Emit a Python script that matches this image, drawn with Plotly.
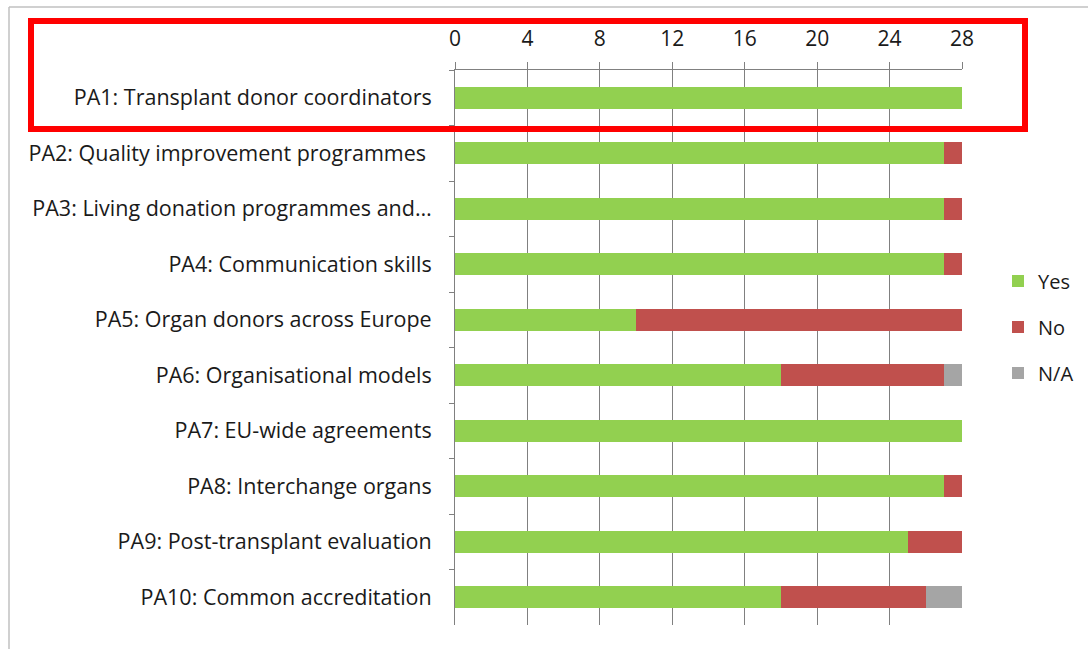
import plotly.graph_objects as go

categories = [
    "PA1: Transplant donor coordinators",
    "PA2: Quality improvement programmes\u00a0",
    "PA3: Living donation programmes and…",
    "PA4: Communication skills",
    "PA5: Organ donors across Europe",
    "PA6: Organisational models",
    "PA7: EU-wide agreements",
    "PA8: Interchange organs",
    "PA9: Post-transplant evaluation",
    "PA10: Common accreditation",
]
yes_vals = [28, 27, 27, 27, 10, 18, 28, 27, 25, 18]
no_vals = [0, 1, 1, 1, 18, 9, 0, 1, 3, 8]
na_vals = [0, 0, 0, 0, 0, 1, 0, 0, 0, 2]
x_ticks = [0, 4, 8, 12, 16, 20, 24, 28]

FONT = "Open Sans"
W, H = 1088, 649
L, R, T, B = 455, 126, 70, 24
pw, ph = W - L - R, H - T - B

def px_x(x):
    return (x - L) / pw

def px_y(y):
    return (H - B - y) / ph

fig = go.Figure()
for name, vals, col in [("Yes", yes_vals, "#92D050"), ("No", no_vals, "#C0504D"), ("N/A", na_vals, "#A5A5A5")]:
    fig.add_trace(go.Bar(
        y=categories, x=vals, name=name, orientation="h",
        marker=dict(color=col, line=dict(width=0)),
        legendgroup=name,
    ))

fig.update_layout(
    barmode="stack",
    bargap=0.6,
    width=W, height=H,
    margin=dict(l=L, r=R, t=T, b=B, autoexpand=False),
    paper_bgcolor="white",
    plot_bgcolor="white",
    font=dict(family=FONT, size=21, color="#1a1a1a"),
    legend=dict(
        x=px_x(998), y=px_y(327), xanchor="left", yanchor="middle",
        font=dict(size=20), tracegroupgap=17, traceorder="grouped",
        itemwidth=30,
    ),
    xaxis=dict(
        side="top", range=[0, 28], tickvals=x_ticks, ticktext=[str(v) for v in x_ticks],
        showgrid=True, gridcolor="#808080", gridwidth=1,
        showline=True, linecolor="#808080", linewidth=1,
        ticks="outside", ticklen=7, tickcolor="#808080",
        ticklabelstandoff=8, zeroline=False, automargin=False,
        tickfont=dict(size=21),
    ),
    yaxis=dict(
        autorange="reversed", tickson="boundaries",
        showline=True, linecolor="#808080", linewidth=1,
        ticks="outside", ticklen=5, tickcolor="#808080",
        ticklabelstandoff=18, showgrid=False, automargin=False,
        tickfont=dict(size=21.5),
    ),
    shapes=[
        dict(type="line", xref="paper", yref="paper", x0=px_x(9), x1=px_x(1088), y0=px_y(7), y1=px_y(7),
             line=dict(color="#c0c0c0", width=1.5)),
        dict(type="line", xref="paper", yref="paper", x0=px_x(9), x1=px_x(9), y0=px_y(7), y1=px_y(649),
             line=dict(color="#c0c0c0", width=1.5)),
        dict(type="rect", xref="paper", yref="paper", x0=px_x(31), x1=px_x(1025), y0=px_y(21), y1=px_y(129),
             line=dict(color="#ff0000", width=6)),
    ],
)

fig.write_html(
    "out.html",
    config={"displayModeBar": False},
    post_script="document.body.style.margin='0';document.body.style.overflow='hidden';",
)
